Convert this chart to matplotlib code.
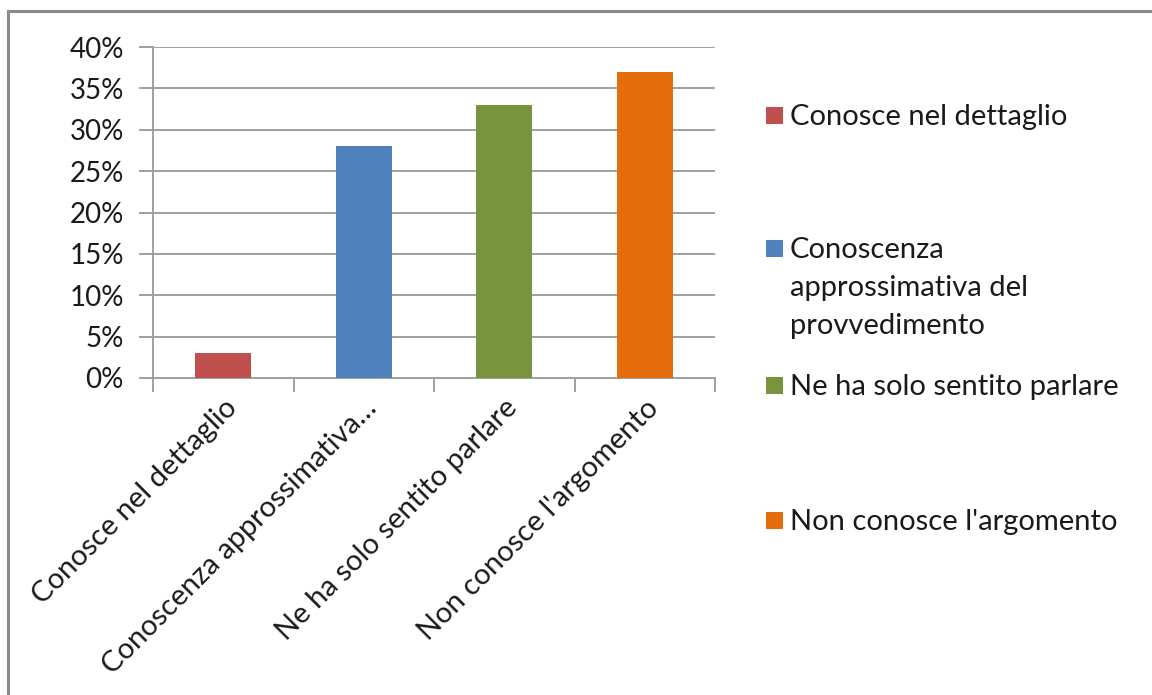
import matplotlib
matplotlib.use("Agg")
import matplotlib.pyplot as plt
from matplotlib.patches import Rectangle
from matplotlib.ticker import FuncFormatter, FixedLocator

plt.rcParams['font.family'] = ['Lato', 'DejaVu Sans']

categories = ["Conosce nel dettaglio", "Conoscenza approssimativa del provvedimento",
              "Ne ha solo sentito parlare", "Non conosce l'argomento"]
tick_labels = ["Conosce nel dettaglio", "Conoscenza approssimativa…",
               "Ne ha solo sentito parlare", "Non conosce l'argomento"]
legend_labels = ["Conosce nel dettaglio", "Conoscenza\napprossimativa del\nprovvedimento",
                 "Ne ha solo sentito parlare", "Non conosce l'argomento"]
values = [0.03, 0.28, 0.33, 0.37]
colors = ["#C0504D", "#4F81BD", "#77933C", "#E46C0A"]

W, H = 1152, 695
fig = plt.figure(figsize=(W / 100, H / 100), dpi=100)
fig.patch.set_facecolor("white")

# outer chart frame
fig.patches.append(Rectangle((8 / W, -0.05), 1.2, 1 - 11 / H + 0.05, transform=fig.transFigure,
                             fill=False, edgecolor="#8a8a8a", linewidth=2.2))

ax = fig.add_axes([153 / W, 1 - 378 / H, (715 - 153) / W, (378 - 47) / H])
x = list(range(len(categories)))
ax.bar(x, values, width=0.4, color=colors, zorder=3)
ax.set_xlim(-0.5, len(categories) - 0.5)
ax.set_ylim(0, 0.40)
ax.set_yticks([i * 0.05 for i in range(9)])
ax.yaxis.set_major_formatter(FuncFormatter(lambda v, p: f"{v*100:.0f}%"))
ax.grid(axis="y", color="#a0a0a0", linewidth=1.4, zorder=0)
for s in ["top", "right"]:
    ax.spines[s].set_visible(False)
for s in ["left", "bottom"]:
    ax.spines[s].set_color("#a0a0a0")
    ax.spines[s].set_linewidth(1.4)
ax.tick_params(axis="y", length=10, width=1.4, color="#a0a0a0", labelsize=20,
               labelcolor="#1a1a1a", pad=11)
ax.set_xticks(x)
ax.set_xticklabels(tick_labels, rotation=45, ha="right", rotation_mode="anchor",
                   fontsize=21, color="#1a1a1a")
ax.tick_params(axis="x", length=0, pad=12)
ax.xaxis.set_minor_locator(FixedLocator([i - 0.5 for i in range(len(categories) + 1)]))
ax.tick_params(axis="x", which="minor", length=10, width=1.4, color="#a0a0a0")

# legend
ys = [115, 248, 385, 520]
for lab, col, yy in zip(legend_labels, colors, ys):
    fig.patches.append(Rectangle((766 / W, 1 - (yy + 8.5) / H), 17 / W, 17 / H,
                                 transform=fig.transFigure, facecolor=col, edgecolor="none"))
    fig.text(790 / W, 1 - (yy - 11) / H, lab, fontsize=21, va="top", ha="left",
             color="#1a1a1a", linespacing=1.58)

fig.savefig("out.png", dpi=100)
